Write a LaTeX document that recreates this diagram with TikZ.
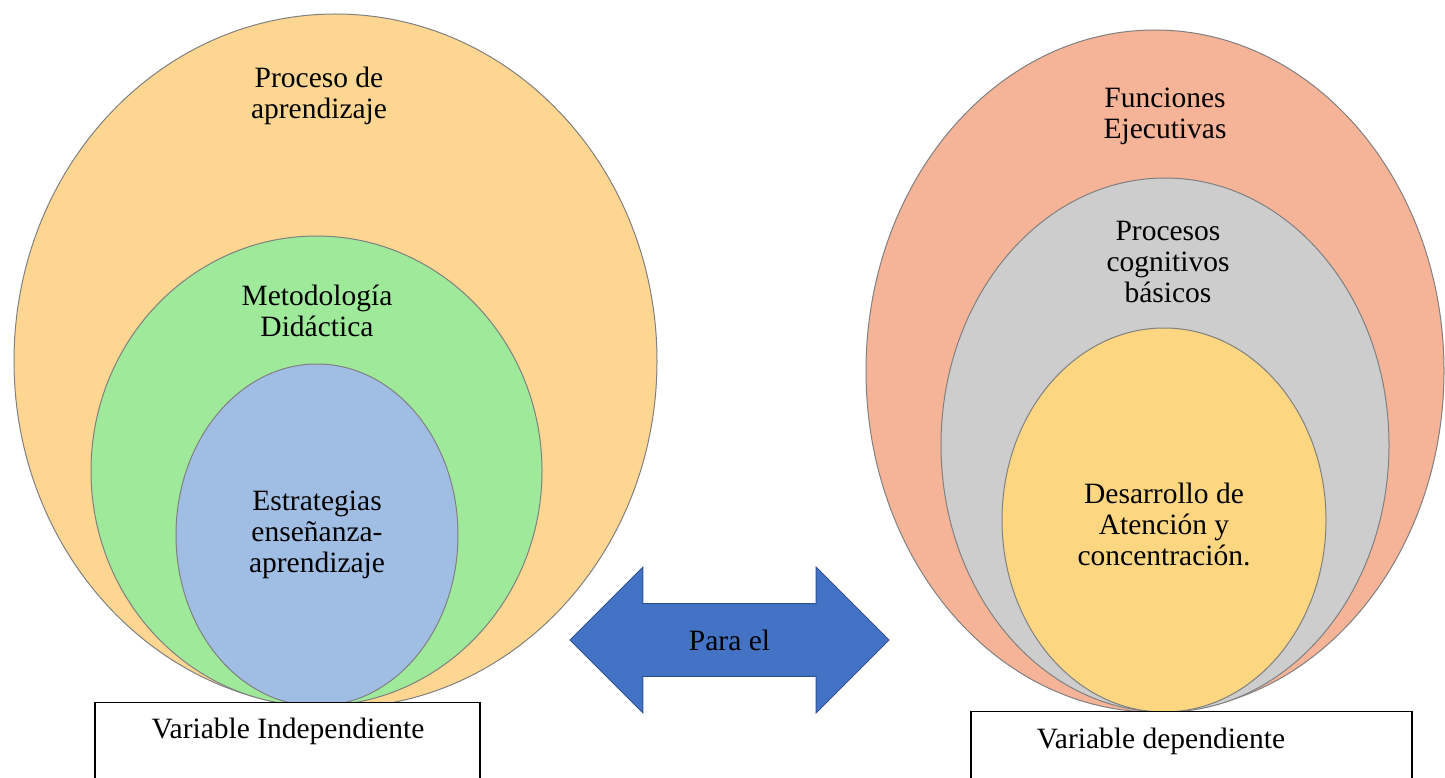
\documentclass[tikz,border=0pt]{standalone}
\usepackage{fontspec}
\setmainfont{Liberation Serif}
\usetikzlibrary{shapes.geometric,shapes.arrows}

\definecolor{peach}{RGB}{253,214,146}
\definecolor{mint}{RGB}{158,234,154}
\definecolor{sky}{RGB}{160,190,228}
\definecolor{salmon}{RGB}{245,180,152}
\definecolor{silver}{RGB}{205,205,205}
\definecolor{butter}{RGB}{253,214,130}
\definecolor{arrowblue}{RGB}{68,114,196}
\definecolor{arrowedge}{RGB}{47,82,143}

\tikzset{
  bubble/.style={draw=black!50, line width=1pt, ellipse, inner sep=0pt},
  label text/.style={align=center, font=\fontsize{29.5}{31}\selectfont},
  varbox/.style={draw, line width=1.2pt, fill=white, inner sep=0pt}
}

\begin{document}
\begin{tikzpicture}[x=1pt,y=1pt]
    \useasboundingbox (0,0) rectangle (1445,-778);

    % left group
    \node[bubble, fill=peach, minimum width=643pt, minimum height=694pt] (proc) at (335.5,-361) {};
    \node[bubble, fill=mint, minimum width=451pt, minimum height=470pt] (metod) at (316.5,-471) {};
    \node[bubble, fill=sky, minimum width=282pt, minimum height=342pt] (estr) at (317,-535) {};
    \node[label text] (proctext) at (319,-96) {Proceso de\\aprendizaje};
    \node[label text] (metodtext) at (317,-311) {Metodología\\Didáctica};
    \node[label text] (estrtext) at (317,-535) {Estrategias\\enseñanza-\\aprendizaje};

    % right group
    \node[bubble, fill=salmon, minimum width=578pt, minimum height=682pt] (func) at (1155,-371) {};
    \node[bubble, fill=silver, minimum width=448pt, minimum height=534pt] (cogn) at (1165,-445) {};
    \node[bubble, fill=butter, minimum width=324pt, minimum height=384pt] (aten) at (1164,-520) {};
    \node[label text] (functext) at (1165,-116) {Funciones\\Ejecutivas};
    \node[label text] (cogntext) at (1168,-262) {Procesos\\cognitivos\\básicos};
    \node[label text] (atentext) at (1164,-524) {Desarrollo de\\Atención y\\concentración.};

    % link
    \node[double arrow, draw=arrowedge, line width=1pt, fill=arrowblue,
          double arrow head extend=36.5pt, minimum height=319pt,
          inner xsep=2pt, inner ysep=25.5pt, label text] (link) at (729.5,-640) {Para el};

    % variable boxes
    \node[varbox, minimum width=385pt, minimum height=110pt, anchor=north] (indbox) at (287.5,-702) {};
    \node[label text] at (288,-731) {Variable Independiente};
    \node[varbox, minimum width=441pt, minimum height=110pt, anchor=north] (depbox) at (1191.5,-711) {};
    \node[label text] at (1161,-741) {Variable dependiente};
\end{tikzpicture}
\end{document}
